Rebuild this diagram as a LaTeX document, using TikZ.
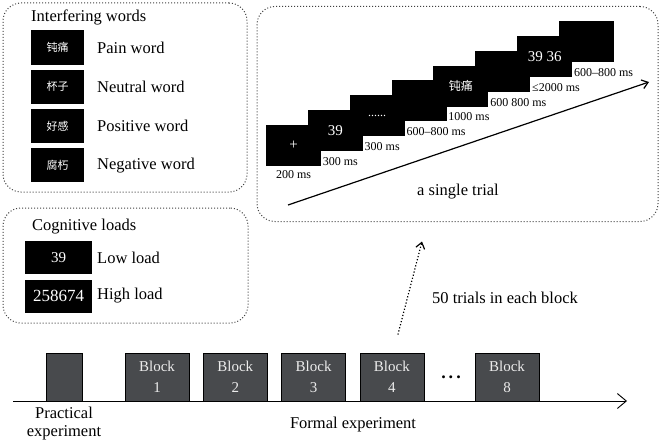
\documentclass[tikz,border=0pt]{standalone}
\usepackage{fontspec}
\setmainfont{Liberation Serif}
\newfontfamily\cjk{Noto Sans CJK SC}
\usetikzlibrary{arrows.meta,positioning}

\def\slidew{55pt}
\def\slideh{41pt}
\def\waitdots{......}
\definecolor{blockgray}{RGB}{72,74,77}
\definecolor{blocktext}{RGB}{236,236,236}

\tikzstyle{panel}=[draw=black!75, dotted, line width=1pt, rounded corners=18pt]
\tikzstyle{desc}=[anchor=west, inner sep=0pt, font=\fontsize{16.5}{19}\selectfont]
\tikzstyle{wordbox}=[fill=black, minimum width=53pt, minimum height=34pt, inner sep=0pt, text=white, font=\cjk\fontsize{11}{13}\selectfont]
\tikzstyle{loadbox}=[fill=black, minimum width=67pt, minimum height=33pt, inner sep=0pt, text=white]
\tikzstyle{slide}=[fill=black, minimum width=\slidew, minimum height=\slideh, inner sep=0pt]
\tikzstyle{slidetext}=[inner sep=0pt, text=white, font=\fontsize{15}{17}\selectfont]
\tikzstyle{dur}=[inner sep=1pt, font=\fontsize{12}{14}\selectfont]
\tikzstyle{block}=[draw=black, fill=blockgray, line width=0.8pt, minimum width=64pt, minimum height=48pt, inner sep=0pt, align=center, text=blocktext, font=\fontsize{15}{21}\selectfont]

\begin{document}
\begin{tikzpicture}[x=1pt, y=-1pt, >={Straight Barb[length=6pt,width=9pt]}] % y runs downwards
  \useasboundingbox (0,0) rectangle (660,444);

  % interfering words
  \node [panel, minimum width=244pt, minimum height=189pt] (words) at (125,97.5) {};
  \node [desc] (words-title) at (31,17) {Interfering words};
  \foreach \w/\m [count=\y] in {钝痛/Pain, 杯子/Neutral, 好感/Positive, 腐朽/Negative}
  {
    \node [wordbox] (word-\y) at (57.5, 47.5+39.2*\y-39.2) {\w};
    \node [desc] (word-text-\y) at (97, 47.5+39.2*\y-39.2) {\m\ word};
  }

  % cognitive loads
  \node [panel, minimum width=245pt, minimum height=115pt] (loads) at (125.5,265.5) {};
  \node [desc] (loads-title) at (32,227) {Cognitive loads};
  \node [loadbox, font=\fontsize{15}{17}\selectfont] (load-low) at (58.5,257.5) {39};
  \node [loadbox, font=\fontsize{17}{19}\selectfont] (load-high) at (58.5,296) {258674};
  \node [desc] (load-low-text) at (97,257.5) {Low load};
  \node [desc] (load-high-text) at (97,296) {High load};

  % a single trial
  \node [panel, minimum width=401pt, minimum height=215pt] (trial) at (457.5,114) {};
  \foreach \k in {1,...,8}
  \node [slide] (slide-\k) at (293.5+41.86*\k-41.86, 145.5-14.86*\k+14.86) {};
  % texts on the slides
  \foreach \t/\k in {+/1, 39/2, {\fontsize{12}{14}\selectfont\waitdots}/3, {\cjk\fontsize{12}{14}\selectfont 钝痛}/5, 39 36/7}
  \node [slidetext] (slide-text-\k) at (slide-\k) {\t};

  % durations under the slides
  \foreach \d [count=\k] in {200 ms,300 ms,300 ms,600--800 ms,1000 ms,600 800 ms,≤2000 ms,600--800 ms}
  {
    \ifnum\k=1
    \node [dur, anchor=north] (dur-\k) at ([yshift=-3pt]slide-\k.south) {\d};
    \else
    \node [dur, anchor=north west] (dur-\k) at ([xshift=14pt,yshift=-5pt]slide-\k.south west) {\d};
    \fi
  }

  \coordinate (trial-start) at (288,205);
  \coordinate (trial-end) at (649,82);
  \draw [->, line width=1.2pt] (trial-start) -- (trial-end);
  \node [desc, anchor=center] (trial-text) at (458,192) {a single trial};

  % time line
  \coordinate (time-start) at (13,401);
  \coordinate (time-end) at (627,401);
  \draw [-{Straight Barb[length=9pt,width=15pt]}, line width=0.9pt] (time-start) -- (time-end);

  % blocks
  \node [block, minimum width=36pt] (practice) at (64,377) {};
  \foreach \n [count=\k] in {1,2,3,4}
  \node [block] (block-\n) at (157+78.3*\k-78.3, 377) {Block\\\n};
  \node [inner sep=0pt, font=\bfseries\fontsize{18}{20}\selectfont] (block-dots) at (451,377) {.\,.\,.};
  \node [block] (block-8) at (507,377) {Block\\8};

  \node [align=center, font=\fontsize{16.5}{18}\selectfont] (practice-text) at (64,424) {Practical\\experiment};
  \node [font=\fontsize{16.5}{18}\selectfont] (formal-text) at (353,425) {Formal experiment};

  % from a block up to the trial
  \draw [dotted, line width=1.2pt, ->] ([xshift=6pt,yshift=18pt]block-4.north) -- ([xshift=-35.5pt,yshift=-19.5pt]trial.south);
  \node [desc, anchor=center] (block-text) at (505,298) {50 trials in each block};
\end{tikzpicture}
\end{document}
